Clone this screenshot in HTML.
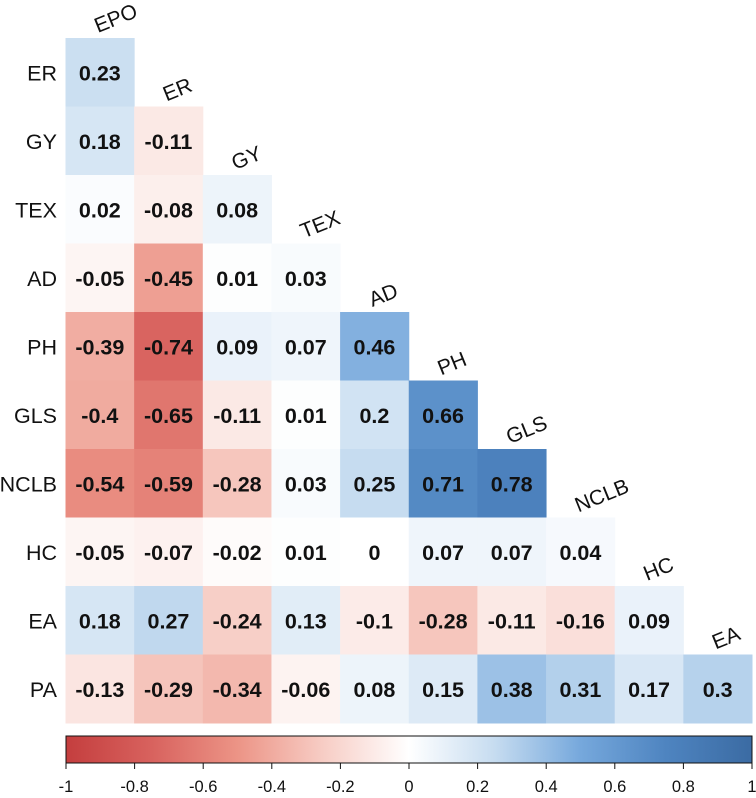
<!DOCTYPE html>
<html><head><meta charset="utf-8"><style>
body{margin:0;background:#fff}
svg{display:block;font-family:"Liberation Sans",Arial,sans-serif}
</style></head><body>
<svg id="chart" width="756" height="798"></svg>
<script>
const vars = ["EPO","ER","GY","TEX","AD","PH","GLS","NCLB","HC","EA","PA"];
const rowLabels = ["ER","GY","TEX","AD","PH","GLS","NCLB","HC","EA","PA"];
const colLabels = ["EPO","ER","GY","TEX","AD","PH","GLS","NCLB","HC","EA"];
const corrER = [0.23];
const corrGY = [0.18,-0.11];
const corrTEX = [0.02,-0.08,0.08];
const corrAD = [-0.05,-0.45,0.01,0.03];
const corrPH = [-0.39,-0.74,0.09,0.07,0.46];
const corrGLS = [-0.4,-0.65,-0.11,0.01,0.2,0.66];
const corrNCLB = [-0.54,-0.59,-0.28,0.03,0.25,0.71,0.78];
const corrHC = [-0.05,-0.07,-0.02,0.01,0,0.07,0.07,0.04];
const corrEA = [0.18,0.27,-0.24,0.13,-0.1,-0.28,-0.11,-0.16,0.09];
const corrPA = [-0.13,-0.29,-0.34,-0.06,0.08,0.15,0.38,0.31,0.17,0.3];
const matrix = [corrER,corrGY,corrTEX,corrAD,corrPH,corrGLS,corrNCLB,corrHC,corrEA,corrPA];
const legendTicks = [-1,-0.8,-0.6,-0.4,-0.2,0,0.2,0.4,0.6,0.8,1];

const NS="http://www.w3.org/2000/svg";
const svg=document.getElementById('chart');
const X0=65.5, Y0=38, CW=68.65, CH=68.5;
const xPos=j=>X0+j*CW, yPos=i=>Y0+i*CH;
const stops=[[-1,[196,62,62]],[-0.75,[216,98,94]],[-0.5,[236,148,134]],[-0.25,[247,205,197]],[0,[255,255,255]],[0.25,[198,220,240]],[0.5,[118,168,220]],[0.75,[78,132,192]],[1,[59,107,163]]];
function color(v){
  for(let k=0;k<stops.length-1;k++){
    const [a,ca]=stops[k],[b,cb]=stops[k+1];
    if(v>=a&&v<=b){const t=(v-a)/(b-a);return 'rgb('+ca.map((c,i)=>Math.round(c+(cb[i]-c)*t)).join(',')+')';}
  }
  return '#fff';
}
function el(tag,attrs){const e=document.createElementNS(NS,tag);for(const k in attrs)e.setAttribute(k,attrs[k]);svg.appendChild(e);return e;}

matrix.forEach((row,i)=>{
  row.forEach((v,j)=>{
    const r=el('rect',{x:xPos(j),y:yPos(i),width:CW+0.5,height:CH+0.5,fill:color(v)});
    
    
    const t=el('text',{x:xPos(j)+CW/2,y:yPos(i)+CH/2+8,'text-anchor':'middle','font-size':21.5,'font-weight':'bold',fill:'#111'});
    t.textContent=String(v);
    
    
  });
});
rowLabels.forEach((l,i)=>{
  const t=el('text',{x:57,y:yPos(i)+CH/2+8,'text-anchor':'end','font-size':21.5,fill:'#111'});
  t.textContent=l;
  
  
});
colLabels.forEach((l,j)=>{
  const cx=xPos(j)+CW/2-2, cy=yPos(j)-5;
  const t=el('text',{x:cx,y:cy,'font-size':21,fill:'#111',transform:'rotate(-22 '+cx+' '+cy+')'});
  t.textContent=l;
  
  
});
const defs=el('defs',{});
const g=document.createElementNS(NS,'linearGradient');g.setAttribute('id','grad');defs.appendChild(g);
stops.forEach(s=>{const st=document.createElementNS(NS,'stop');st.setAttribute('offset',((s[0]+1)/2*100)+'%');st.setAttribute('stop-color','rgb('+s[1].join(',')+')');g.appendChild(st);});
const BX0=66, BX1=752, BY=736, BH=27;
const bar=el('rect',{x:BX0,y:BY,width:BX1-BX0,height:BH,fill:'url(#grad)',stroke:'#111','stroke-width':1});


const lx=v=>BX0+(v+1)/2*(BX1-BX0);
legendTicks.forEach(v=>{
  const tk=el('line',{x1:lx(v),x2:lx(v),y1:BY+BH,y2:BY+BH+6,stroke:'#111','stroke-width':1});
  
  
  const t=el('text',{x:lx(v),y:792,'text-anchor':'middle','font-size':16.5,fill:'#111'});
  t.textContent=String(v);
  
  
});
</script>
</body></html>
